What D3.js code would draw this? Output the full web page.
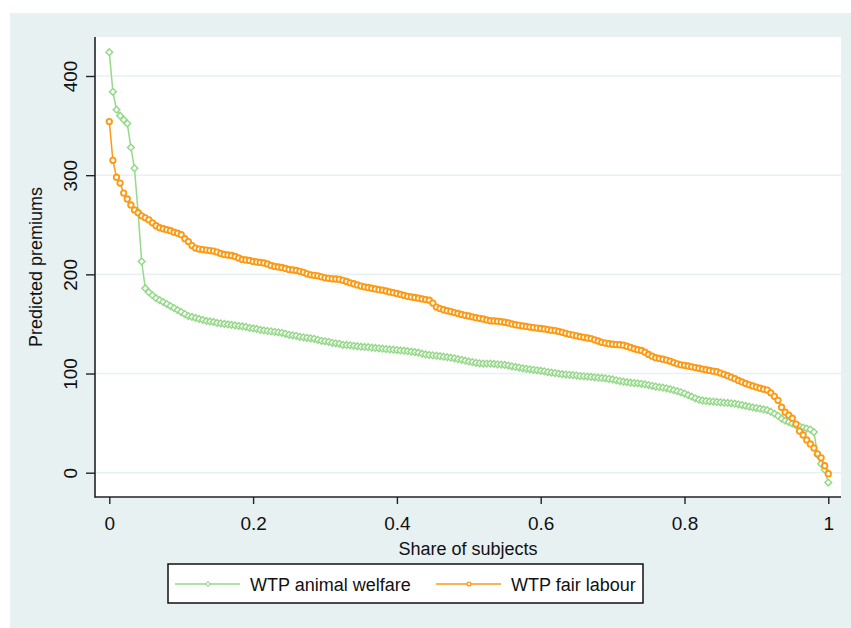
<!DOCTYPE html>
<html>
<head>
<meta charset="utf-8">
<script src="https://cdn.jsdelivr.net/npm/d3@7"></script>
<style>
  body { margin: 0; background: #fff; }
  svg { display: block; font-family: "Liberation Sans", Arial, sans-serif; }
</style>
</head>
<body>
<svg width="851" height="628"></svg>
<script>
// Sorted predicted premiums at every 0.005 share of subjects
var animalWelfare = [
    424, 384, 366, 360, 356, 352, 328, 307, 263, 213, 186,
    182, 179, 176, 174, 172, 170, 168, 166, 164, 162,
    160, 158, 157, 156, 155, 154, 153, 152.5, 152, 151,
    150.5, 150, 149.5, 149, 148.5, 148, 147.5, 147, 146, 145.5,
    145, 144, 143.5, 143, 142.5, 142, 141.5, 141, 140, 139,
    138.5, 138, 137, 136.5, 136, 135.5, 135, 134, 133, 132.5,
    132, 131, 130.5, 130, 129, 128.8, 128.5, 128, 127.5, 127,
    126.8, 126.5, 126, 125.8, 125.4, 125, 124.6, 124.3, 124, 123.7,
    123.3, 123, 122.5, 122, 121.5, 121, 120, 119.3, 118.7, 118.3,
    118, 117.5, 117, 116.5, 116, 115.3, 114.5, 113.8, 113, 112.2,
    111.5, 110.8, 110.3, 110, 110, 110, 109.7, 109.3, 109, 108.6,
    108, 107.3, 106.6, 106, 105.3, 104.8, 104.2, 103.7, 103.2, 102.8,
    102.2, 101.5, 101, 100.4, 99.8, 99.3, 99, 98.7, 98.3, 98,
    97.5, 97.2, 96.9, 96.6, 96.2, 95.8, 95.5, 95.2, 94.6, 94,
    93.2, 92.4, 91.8, 91.3, 90.8, 90.4, 90.1, 89.6, 89, 88.4,
    87.6, 86.8, 86.2, 85.7, 85.1, 84.2, 83.2, 82.2, 81, 79.8,
    78.2, 76.6, 75, 73.6, 72.8, 72.3, 72, 71.7, 71.4, 71,
    70.6, 70.3, 70, 69.6, 69, 68.2, 67.3, 66.6, 65.8, 65.2,
    64.5, 63.8, 63, 61.5, 59.5, 57.3, 54.5, 52.5, 51, 49.5,
    48, 46.8, 45.5, 44.5, 43.5, 41, 18, 9, 3, -10
];

var fairLabour = [
    354, 315, 298, 292, 282, 276, 270, 265, 262, 259, 257,
    255, 252, 249, 247, 246, 245, 244, 242.5, 241.5, 240,
    236, 233, 229, 226.5, 225.5, 225, 224.5, 224, 223.5, 222.5,
    221, 220, 219.5, 219, 218, 216.5, 215, 214.5, 214, 213,
    212.5, 212, 211.5, 210.5, 209, 208, 207.5, 207, 206, 205,
    204.5, 204, 203, 202, 200.5, 199.5, 199, 198.5, 197.5, 196.5,
    196, 195.5, 195.3, 195, 194, 192.8, 191.5, 190.5, 189.3, 188.2,
    187.4, 186.8, 186, 185.3, 184.5, 184, 183.2, 182.3, 181.5, 180.8,
    179.8, 178.8, 177.8, 177.2, 176.7, 176, 175.2, 174.6, 174, 171,
    167, 165.5, 164.3, 163.3, 162.5, 161.5, 160.5, 159.5, 158.7, 158,
    157.2, 156.3, 155.7, 155, 154, 153.2, 153, 152.8, 152.3, 151.7,
    151, 150, 149.2, 148.6, 148, 147.5, 146.8, 146.3, 145.8, 145.4,
    145, 144.3, 143.7, 143.3, 142.5, 141.5, 140.5, 139.5, 138.8, 138,
    137.2, 136.5, 135.8, 135.2, 134, 132.8, 131.5, 130.7, 130, 129.5,
    129.2, 129, 128.6, 127.5, 126.3, 125, 124, 123.3, 121.5, 119.3,
    117.5, 116, 115.2, 114.5, 113.6, 112.5, 111, 109.8, 108.8, 108.3,
    107.6, 106.8, 106, 105.3, 104.5, 103.8, 103.1, 102.4, 101.8, 100.5,
    99.2, 97.8, 96.3, 94.8, 93, 91.5, 90, 88.6, 87.5, 86.3,
    85.2, 84.2, 83.3, 80.5, 77, 73, 66, 61, 58, 55,
    49, 42, 38, 33, 29, 25, 19, 15, 7, -1
];

var xTicks = [0, 0.2, 0.4, 0.6, 0.8, 1];
var yTicks = [0, 100, 200, 300, 400];
var seriesNames = ["WTP animal welfare", "WTP fair labour"];

(function () {
    "use strict";

    var green = '#96d98a';
    var orange = '#fd9a14';
    var regionColor = '#e7f1f2';

    var svg = d3.select('svg');

    // graph region and plot region
    svg.append('rect')
        .attr('x', 10).attr('y', 13)
        .attr('width', 841).attr('height', 615)
        .attr('fill', regionColor);

    var plot = { left: 95, top: 37, right: 841, bottom: 497 };

    svg.append('rect')
        .attr('x', plot.left).attr('y', plot.top)
        .attr('width', plot.right - plot.left)
        .attr('height', plot.bottom - plot.top)
        .attr('fill', '#fff');

    var x = d3.scaleLinear().domain([0, 1]).range([109.3, 828.3]);
    var y = d3.scaleLinear().domain([0, 400]).range([472.7, 76]);

    // gridlines
    svg.append('g')
        .selectAll('line')
        .data(yTicks)
        .enter()
        .append('line')
        .attr('x1', plot.left).attr('x2', plot.right)
        .attr('y1', function (d) { return y(d); })
        .attr('y2', function (d) { return y(d); })
        .attr('stroke', regionColor)
        .attr('stroke-width', 1.6);

    // Y axis
    var yAxis = svg.append('g')
        .attr('transform', 'translate(' + plot.left + ',0)')
        .call(d3.axisLeft(y).tickValues(yTicks).tickSize(9).tickSizeOuter(0));
    yAxis.select('.domain').remove();
    yAxis.selectAll('line').attr('stroke', '#222').attr('stroke-width', 1.4);
    yAxis.selectAll('text')
        .attr('x', null).attr('dy', null)
        .attr('text-anchor', 'middle')
        .attr('transform', 'translate(-18,0) rotate(-90)')
        .attr('font-size', 19)
        .attr('fill', '#111');

    // X axis
    var xAxis = svg.append('g')
        .attr('transform', 'translate(0,' + plot.bottom + ')')
        .call(d3.axisBottom(x).tickValues(xTicks).tickSize(7).tickSizeOuter(0)
            .tickFormat(function (d) { return String(d); }));
    xAxis.select('.domain').remove();
    xAxis.selectAll('line').attr('stroke', '#222').attr('stroke-width', 1.4);
    xAxis.selectAll('text')
        .attr('y', 33).attr('dy', null)
        .attr('font-size', 19)
        .attr('fill', '#111');

    // axis lines spanning the plot region
    svg.append('line')
        .attr('x1', plot.left).attr('x2', plot.left)
        .attr('y1', plot.top).attr('y2', plot.bottom + 0.7)
        .attr('stroke', '#222').attr('stroke-width', 1.6);
    svg.append('line')
        .attr('x1', plot.left).attr('x2', plot.right)
        .attr('y1', plot.bottom).attr('y2', plot.bottom)
        .attr('stroke', '#222').attr('stroke-width', 1.6);

    // axis titles
    svg.append('text')
        .attr('transform', 'translate(42,' + ((plot.top + plot.bottom) / 2) + ') rotate(-90)')
        .attr('text-anchor', 'middle')
        .attr('font-size', 18)
        .attr('fill', '#111')
        .text('Predicted premiums');

    svg.append('text')
        .attr('x', (plot.left + plot.right) / 2)
        .attr('y', 555)
        .attr('text-anchor', 'middle')
        .attr('font-size', 18)
        .attr('fill', '#111')
        .text('Share of subjects');

    var series = [
        { values: animalWelfare, color: green, marker: 'diamond' },
        { values: fairLabour, color: orange, marker: 'circle' }
    ];

    var line = d3.line()
        .x(function (d) { return x(d.share); })
        .y(function (d) { return y(d.value); });

    function drawMarker(sel, s, k) {
        if (s.marker === 'diamond') {
            sel.append('path')
                .attr('d', d3.symbol().type(d3.symbolSquare).size(22 * k * k)())
                .attr('transform', 'rotate(45)')
                .attr('fill', '#fff')
                .attr('stroke', s.color)
                .attr('stroke-width', 1.5 * k);
        } else {
            sel.append('circle')
                .attr('r', 2.7 * k)
                .attr('fill', '#fff')
                .attr('stroke', s.color)
                .attr('stroke-width', 1.9 * k);
        }
    }

    series.forEach(function (s) {
        var n = s.values.length - 1;
        var pts = s.values.map(function (v, i) {
            return { share: i / n, value: v };
        });

        svg.append('path')
            .datum(pts)
            .attr('fill', 'none')
            .attr('stroke', s.color)
            .attr('stroke-width', 1.5)
            .attr('d', line);

        svg.append('g')
            .selectAll('g')
            .data(pts)
            .enter()
            .append('g')
            .attr('transform', function (d) {
                return 'translate(' + x(d.share) + ',' + y(d.value) + ')';
            })
            .each(function () { drawMarker(d3.select(this), s, 1); });
    });

    // legend
    var legend = svg.append('g').attr('class', 'legend');
    legend.append('rect')
        .attr('x', 168).attr('y', 564)
        .attr('width', 475).attr('height', 39)
        .attr('fill', '#fff')
        .attr('stroke', '#111')
        .attr('stroke-width', 1.5);

    var keyX = [175, 436];
    series.forEach(function (s, i) {
        legend.append('line')
            .attr('x1', keyX[i]).attr('x2', keyX[i] + 65)
            .attr('y1', 584).attr('y2', 584)
            .attr('stroke', s.color)
            .attr('stroke-width', 1.5);
        var m = legend.append('g')
            .attr('transform', 'translate(' + (keyX[i] + 33) + ',584)');
        drawMarker(m, s, 0.7);
        legend.append('text')
            .attr('x', keyX[i] + 75)
            .attr('y', 591)
            .attr('font-size', 18)
            .attr('fill', '#111')
            .text(seriesNames[i]);
    });
})();
</script>
</body>
</html>
